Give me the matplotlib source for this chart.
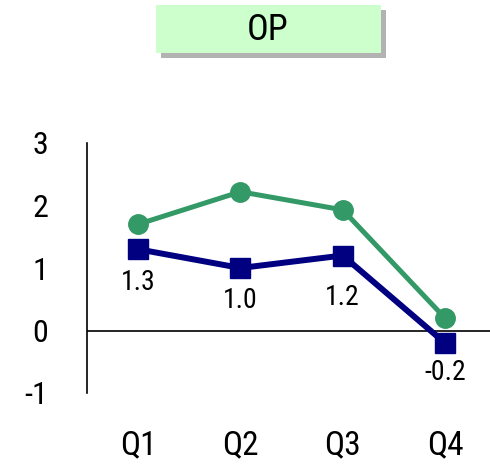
import matplotlib
matplotlib.use("Agg")
import matplotlib.pyplot as plt
from matplotlib.patches import Rectangle
from matplotlib import font_manager

fams = {f.name for f in font_manager.fontManager.ttflist}
cands = ['Liberation Sans Narrow', 'Roboto Condensed', 'Open Sans Condensed', 'DejaVu Sans Condensed']
FONT = [c for c in cands if c in fams] + ['Liberation Sans', 'DejaVu Sans']
plt.rcParams['font.family'] = FONT

title = "OP"
quarters = ["Q1", "Q2", "Q3", "Q4"]
series_green = [1.70, 2.22, 1.93, 0.20]
series_blue = [1.3, 1.0, 1.2, -0.2]
blue_labels = ["1.3", "1.0", "1.2", "-0.2"]
yticks = [-1, 0, 1, 2, 3]

fig = plt.figure(figsize=(4.9, 4.74), dpi=100)
ax = fig.add_axes([87/490, 81/474, 1 - 87/490, 250/474])

x = list(range(len(quarters)))
ax.plot(x, series_green, color='#339966', lw=3.6, marker='o', ms=14, zorder=3)
ax.plot(x, series_blue, color='#000080', lw=4.3, marker='s', ms=14, zorder=4)

label_offsets = [-33, -33, -42, -29]
for xi, yi, lab, off in zip(x, series_blue, blue_labels, label_offsets):
    ax.annotate(lab, (xi, yi), xytext=(0, off * 0.72), textcoords='offset points',
                ha='center', va='center', fontsize=20, color='black')

ax.axhline(0, color='black', lw=1.2, zorder=1)
ax.set_xlim(-0.5, 3.44)
ax.set_ylim(-1, 3)
ax.set_yticks(yticks)
ax.set_yticklabels([str(v) for v in yticks], fontsize=23)
ax.set_xticks(x)
ax.set_xticklabels(quarters, fontsize=24)
ax.tick_params(axis='y', length=0, pad=28)
ax.tick_params(axis='x', length=0, pad=26)
for s in ['top', 'right', 'bottom']:
    ax.spines[s].set_visible(False)
ax.spines['left'].set_linewidth(1.2)

# title box with shadow
W, H = 490, 474
fig.patches.append(Rectangle((161/W, 1 - 58/H), 225/W, 48/H, transform=fig.transFigure,
                             facecolor='#b2b2b2', edgecolor='none', zorder=1))
fig.patches.append(Rectangle((156/W, 1 - 53/H), 225/W, 48/H, transform=fig.transFigure,
                             facecolor='#ccffcc', edgecolor='none', zorder=2))
fig.text(268/W, 1 - 30/H, title, ha='center', va='center', fontsize=26, zorder=3)

fig.savefig("out.png", dpi=100)
